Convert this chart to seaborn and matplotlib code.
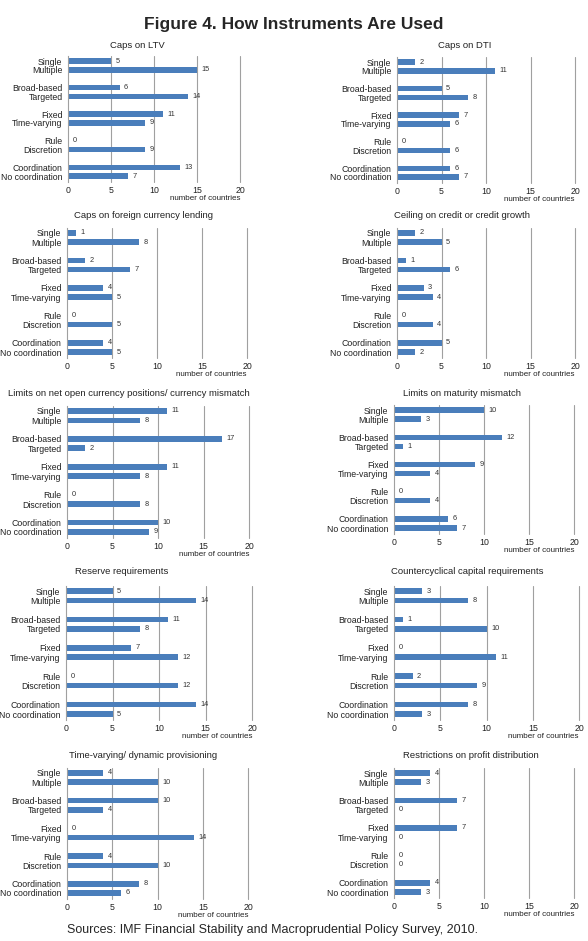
import matplotlib
matplotlib.use("Agg")
import matplotlib.pyplot as plt
import seaborn as sns
import numpy as np

# data
categories = ["Single", "Multiple", "Broad-based", "Targeted", "Fixed",
              "Time-varying", "Rule", "Discretion", "Coordination", "No coordination"]
titles = [
    "Caps on LTV",
    "Caps on DTI",
    "Caps on foreign currency lending",
    "Ceiling on credit or credit growth",
    "Limits on net open currency positions/ currency mismatch",
    "Limits on maturity mismatch",
    "Reserve requirements",
    "Countercyclical capital requirements",
    "Time-varying/ dynamic provisioning",
    "Restrictions on profit distribution",
]
caps_ltv = [5, 15, 6, 14, 11, 9, 0, 9, 13, 7]
caps_dti = [2, 11, 5, 8, 7, 6, 0, 6, 6, 7]
caps_fx_lending = [1, 8, 2, 7, 4, 5, 0, 5, 4, 5]
credit_ceiling = [2, 5, 1, 6, 3, 4, 0, 4, 5, 2]
net_open_fx = [11, 8, 17, 2, 11, 8, 0, 8, 10, 9]
maturity_mismatch = [10, 3, 12, 1, 9, 4, 0, 4, 6, 7]
reserve_req = [5, 14, 11, 8, 7, 12, 0, 12, 14, 5]
countercyclical_cap = [3, 8, 1, 10, 0, 11, 2, 9, 8, 3]
dynamic_prov = [4, 10, 10, 4, 0, 14, 4, 10, 8, 6]
profit_restrictions = [4, 3, 7, 0, 7, 0, 0, 0, 4, 3]
xticks = [0, 5, 10, 15, 20]

series = [caps_ltv, caps_dti, caps_fx_lending, credit_ceiling, net_open_fx,
          maturity_mismatch, reserve_req, countercyclical_cap, dynamic_prov,
          profit_restrictions]

# bars come in pairs with a gap between pairs
ypos = [3 * (i // 2) + (i % 2) for i in range(len(categories))]

# panel layout in pixels: left, right, first bar centre, last bar centre
layout = [
    (68, 240, 61, 176), (397, 575, 62, 177),
    (67, 247, 233, 352), (397, 575, 233, 352),
    (67, 249, 411, 532), (394, 574, 410, 528),
    (66, 252, 591, 714), (394, 579, 591, 714),
    (67, 248, 773, 893), (394, 574, 773, 892),
]
title_pos = [(137, 45), (465, 45), (144, 215), (462, 215), (129, 394),
             (462, 394), (122, 572), (467, 572), (143, 755), (471, 755)]

sns.set_style("white")
plt.rcParams["font.family"] = ["Liberation Sans", "DejaVu Sans"]

W, H = 588, 941
fig = plt.figure(figsize=(W / 100, H / 100), dpi=100)
bar_color = "#4a7ebb"
grid_color = "#a0a0a0"

for k, vals in enumerate(series):
    L, R, f, l = layout[k]
    u = (l - f) / 13.0
    top = f - 0.55 * u
    bot = l + 0.65 * u
    ax = fig.add_axes([L / W, 1 - bot / H, (R - L) / W, (bot - top) / H])
    sns.barplot(x=vals, y=ypos, orient="h", native_scale=True, color=bar_color,
                width=0.6, saturation=1, linewidth=0, ax=ax)
    ax.set_xlim(0, 20)
    ax.set_ylim(13 + 0.65, -0.55)
    ax.set_xticks(xticks)
    ax.set_yticks(ypos)
    ax.set_yticklabels(categories)
    ax.set_xlabel("")
    ax.set_ylabel("")
    ax.tick_params(axis="both", length=0, labelsize=6.3, colors="#222222")
    ax.tick_params(axis="y", pad=4)
    ax.tick_params(axis="x", pad=3)
    for s in ["top", "right", "bottom"]:
        ax.spines[s].set_visible(False)
    ax.spines["left"].set_color(grid_color)
    ax.spines["left"].set_linewidth(0.8)
    for t in xticks[1:]:
        ax.axvline(t, color=grid_color, lw=0.8, zorder=0, clip_on=False)
    for v, y in zip(vals, ypos):
        ax.annotate(str(v), (v, y), xytext=(3.2, 0), textcoords="offset points",
                    ha="left", va="center", fontsize=5.3, color="#333333")
    ax.annotate("number of countries", (1.0, 0.0), xycoords="axes fraction",
                xytext=(0, -12), textcoords="offset points",
                ha="right", va="center", fontsize=5.8, color="#222222")
    tx, ty = title_pos[k]
    fig.text(tx / W, 1 - ty / H, titles[k], ha="center", va="center",
             fontsize=6.8, color="#222222")

fig.text(294 / W, 1 - 25 / H, "Figure 4. How Instruments Are Used",
         ha="center", va="center", fontsize=12.5, fontweight="bold")
fig.text(67 / W, 1 - 930 / H,
         "Sources: IMF Financial Stability and Macroprudential Policy Survey, 2010.",
         ha="left", va="center", fontsize=9)

fig.savefig("out.png", dpi=100)
